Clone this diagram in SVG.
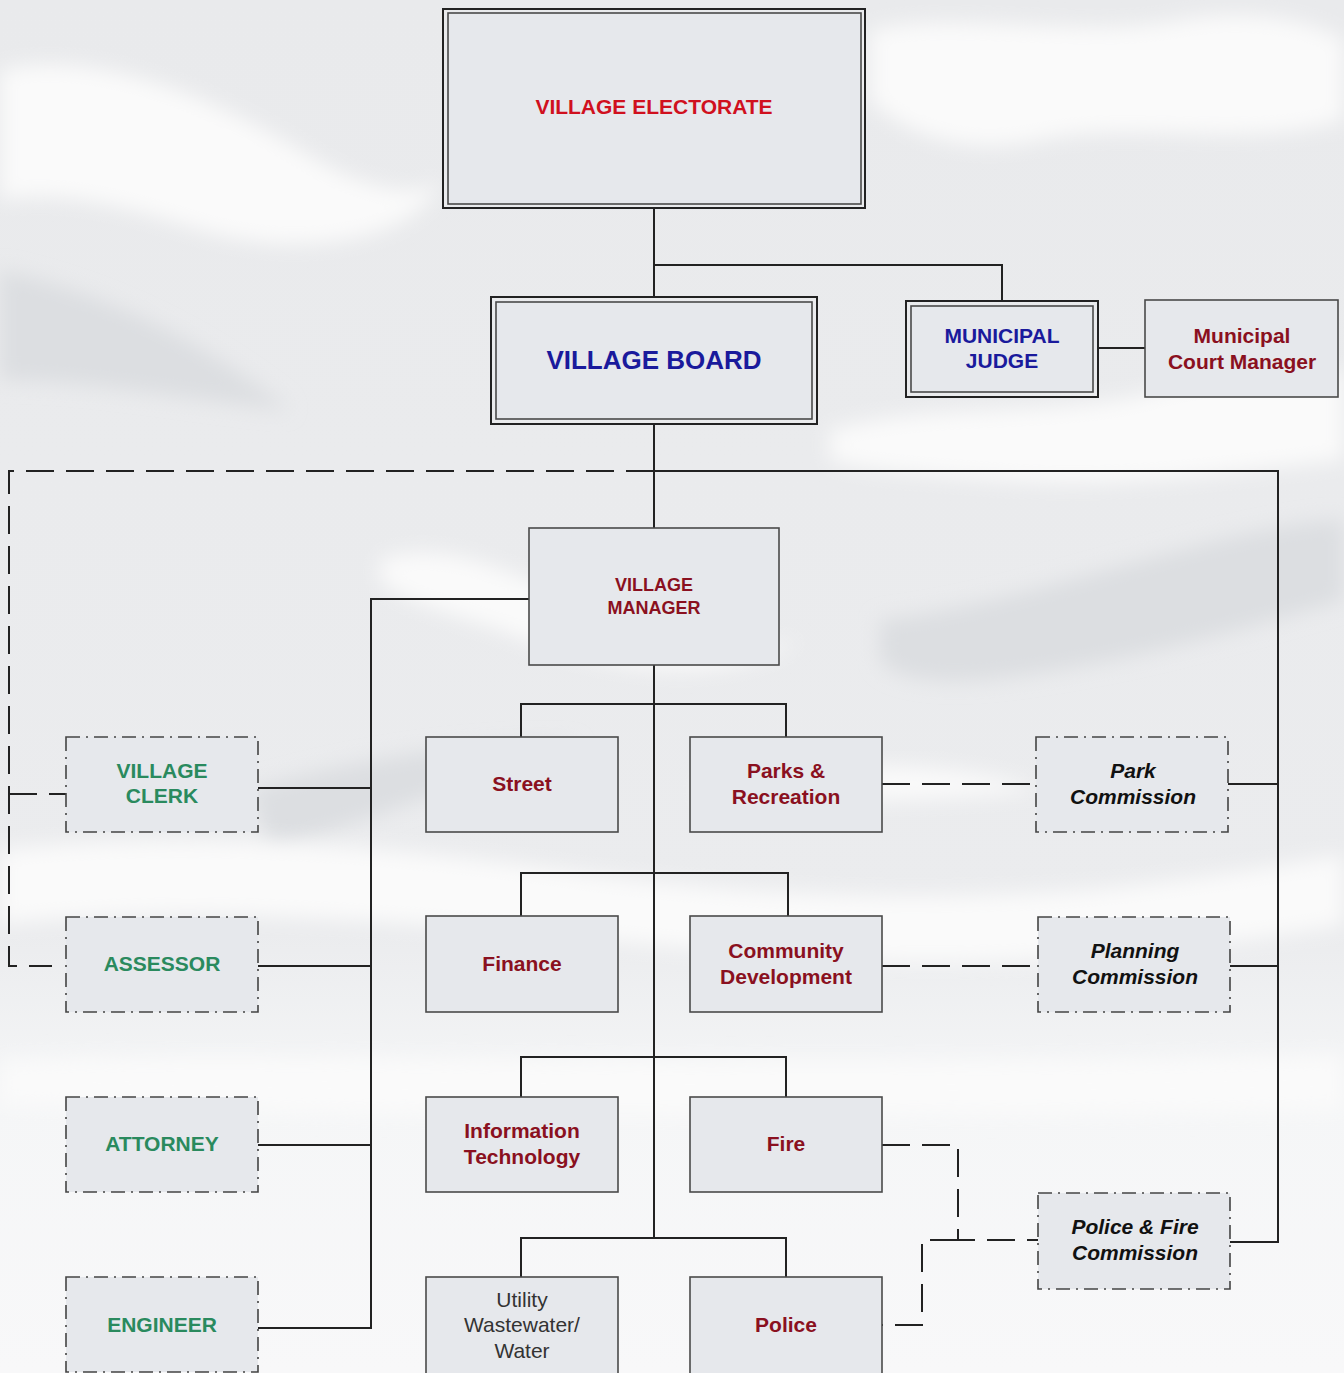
<svg xmlns="http://www.w3.org/2000/svg" width="1344" height="1373" viewBox="0 0 1344 1373">
  <defs>
    <filter id="soft" x="-20%" y="-40%" width="140%" height="180%">
      <feGaussianBlur stdDeviation="10"/>
    </filter>
    <linearGradient id="sky" x1="0" y1="0" x2="0" y2="1">
      <stop offset="0" stop-color="#e9eaec"/>
      <stop offset="0.68" stop-color="#ebecee"/>
      <stop offset="0.8" stop-color="#f5f6f7"/>
      <stop offset="1" stop-color="#f8f8f9"/>
    </linearGradient>
    <style>
      .bg { fill: url(#sky); }
      .cloud { fill: #fafafa; filter: url(#soft); }
      .shade { fill: #dcdee1; filter: url(#soft); }
      .box { fill: #e6e8ec; stroke: #4a4a4a; stroke-width: 1.6; }
      .frame { fill: none; stroke: #222; stroke-width: 2; }
      .dbox { fill: #e6e8ec; stroke: #444; stroke-width: 1.6; stroke-dasharray: 14 6 2 6; }
      .line { fill: none; stroke: #222; stroke-width: 2; }
      .dash { fill: none; stroke: #222; stroke-width: 2; stroke-dasharray: 28 12; }
      text { font-family: "Liberation Sans", Arial, sans-serif; text-anchor: middle; font-weight: bold; font-size: 21px; }
      .red { fill: #d0101e; }
      .blue { fill: #1a1a9c; }
      .dept { fill: #8a1020; }
      .green { fill: #2a8a5e; }
      .comm { fill: #111; font-style: italic; }
      .plain { fill: #333; font-weight: normal; }
    </style>
  </defs>

  <!-- backdrop: grey sky with soft white swooshes -->
  <rect class="bg" x="0" y="0" width="1344" height="1373"/>
  <g id="backdrop">
    <path class="cloud" d="M0,70 C90,50 200,90 300,150 C360,190 420,200 440,180 C420,240 300,260 200,230 C120,205 60,190 0,200 Z"/>
    <path class="cloud" d="M870,30 C960,10 1080,40 1180,20 C1250,8 1310,20 1344,40 L1344,120 C1250,150 1130,120 1040,140 C960,158 900,130 870,100 Z"/>
    <path class="shade" d="M0,270 C90,290 190,330 290,410 C190,400 90,380 0,380 Z"/>
    <path class="cloud" d="M830,430 C940,400 1060,420 1160,390 C1240,370 1300,380 1344,370 L1344,460 C1240,470 1120,490 1000,480 C920,474 860,470 830,460 Z"/>
    <path class="cloud" d="M380,560 C460,530 560,600 640,630 C700,650 760,650 800,640 C720,690 600,670 500,630 C440,610 400,600 380,580 Z"/>
    <path class="shade" d="M880,620 C980,610 1100,570 1220,540 C1280,526 1320,520 1344,520 L1344,600 C1240,630 1100,670 980,680 C930,684 890,676 880,660 Z"/>
    <path class="shade" d="M250,790 C350,760 470,740 580,745 C500,770 400,810 270,850 Z"/>
    <path class="cloud" d="M0,850 C180,830 380,845 560,870 C760,900 1000,905 1180,880 C1260,870 1310,860 1344,855 L1344,925 C1200,950 980,975 760,955 C540,935 320,910 140,915 C80,917 30,920 0,925 Z"/>
    <path class="cloud" d="M700,780 C820,760 960,760 1040,790 C950,800 820,805 700,800 Z"/>
    <path class="cloud" d="M0,1060 C300,1050 700,1070 1344,1055 L1344,1110 C800,1120 300,1115 0,1105 Z"/>
  </g>

  <!-- connectors -->
  <g id="connectors">
    <path class="line" d="M654,208 V298 M654,265 H1002 V301"/>
    <path class="line" d="M1098,348 H1145"/>
    <path class="line" d="M654,424 V528"/>
    <path class="dash" d="M654,471 H9 V966 H52 M9,794 H66"/>
    <path class="line" d="M654,471 H1278 V1242 H1230 M1278,784 H1228 M1278,966 H1230"/>
    <path class="line" d="M529,599 H371 V1328 H258 M371,788 H258 M371,966 H258 M371,1145 H258"/>
    <path class="line" d="M654,665 V1238"/>
    <path class="line" d="M521,737 V704 H786 V737"/>
    <path class="line" d="M521,916 V873 H788 V916"/>
    <path class="line" d="M521,1097 V1057 H786 V1097"/>
    <path class="line" d="M521,1277 V1238 H786 V1277"/>
    <path class="dash" d="M882,784 H1036"/>
    <path class="dash" d="M882,966 H1038"/>
    <path class="dash" d="M882,1145 H958 V1240 H1038 M958,1240 H922 V1325 H882"/>
  </g>

  <g id="electorate">
    <rect class="frame" x="443" y="9" width="422" height="199"/>
    <rect class="box" x="448" y="13" width="413" height="191"/>
    <text class="red" x="654" y="114">VILLAGE ELECTORATE</text>
  </g>

  <g id="board">
    <rect class="frame" x="491" y="297" width="326" height="127"/>
    <rect class="box" x="496" y="302" width="316" height="117"/>
    <text class="blue" x="654" y="369" style="font-size:26px">VILLAGE BOARD</text>
  </g>

  <g id="judge">
    <rect class="frame" x="906" y="301" width="192" height="96"/>
    <rect class="box" x="911" y="306" width="182" height="86"/>
    <text class="blue" x="1002" y="343">MUNICIPAL</text>
    <text class="blue" x="1002" y="368">JUDGE</text>
  </g>

  <g id="court-manager">
    <rect class="box" x="1145" y="300" width="193" height="97"/>
    <text class="dept" x="1242" y="343">Municipal</text>
    <text class="dept" x="1242" y="369">Court Manager</text>
  </g>

  <g id="manager">
    <rect class="box" x="529" y="528" width="250" height="137"/>
    <text class="dept" x="654" y="591" style="font-size:18px">VILLAGE</text>
    <text class="dept" x="654" y="614" style="font-size:18px">MANAGER</text>
  </g>

  <g id="street">
    <rect class="box" x="426" y="737" width="192" height="95"/>
    <text class="dept" x="522" y="791">Street</text>
  </g>
  <g id="parks">
    <rect class="box" x="690" y="737" width="192" height="95"/>
    <text class="dept" x="786" y="778">Parks &amp;</text>
    <text class="dept" x="786" y="804">Recreation</text>
  </g>
  <g id="finance">
    <rect class="box" x="426" y="916" width="192" height="96"/>
    <text class="dept" x="522" y="971">Finance</text>
  </g>
  <g id="community-development">
    <rect class="box" x="690" y="916" width="192" height="96"/>
    <text class="dept" x="786" y="958">Community</text>
    <text class="dept" x="786" y="984">Development</text>
  </g>
  <g id="information-technology">
    <rect class="box" x="426" y="1097" width="192" height="95"/>
    <text class="dept" x="522" y="1138">Information</text>
    <text class="dept" x="522" y="1164">Technology</text>
  </g>
  <g id="fire">
    <rect class="box" x="690" y="1097" width="192" height="95"/>
    <text class="dept" x="786" y="1151">Fire</text>
  </g>
  <g id="utility">
    <rect class="box" x="426" y="1277" width="192" height="100"/>
    <text class="plain" x="522" y="1307">Utility</text>
    <text class="plain" x="522" y="1332">Wastewater/</text>
    <text class="plain" x="522" y="1358">Water</text>
  </g>
  <g id="police">
    <rect class="box" x="690" y="1277" width="192" height="100"/>
    <text class="dept" x="786" y="1332">Police</text>
  </g>

  <g id="village-clerk">
    <rect class="dbox" x="66" y="737" width="192" height="95"/>
    <text class="green" x="162" y="778">VILLAGE</text>
    <text class="green" x="162" y="803">CLERK</text>
  </g>
  <g id="assessor">
    <rect class="dbox" x="66" y="917" width="192" height="95"/>
    <text class="green" x="162" y="971">ASSESSOR</text>
  </g>
  <g id="attorney">
    <rect class="dbox" x="66" y="1097" width="192" height="95"/>
    <text class="green" x="162" y="1151">ATTORNEY</text>
  </g>
  <g id="engineer">
    <rect class="dbox" x="66" y="1277" width="192" height="95"/>
    <text class="green" x="162" y="1332">ENGINEER</text>
  </g>

  <g id="park-commission">
    <rect class="dbox" x="1036" y="737" width="192" height="95"/>
    <text class="comm" x="1133" y="778">Park</text>
    <text class="comm" x="1133" y="804">Commission</text>
  </g>
  <g id="planning-commission">
    <rect class="dbox" x="1038" y="917" width="192" height="95"/>
    <text class="comm" x="1135" y="958">Planning</text>
    <text class="comm" x="1135" y="984">Commission</text>
  </g>
  <g id="police-fire-commission">
    <rect class="dbox" x="1038" y="1193" width="192" height="96"/>
    <text class="comm" x="1135" y="1234">Police &amp; Fire</text>
    <text class="comm" x="1135" y="1260">Commission</text>
  </g>
</svg>
